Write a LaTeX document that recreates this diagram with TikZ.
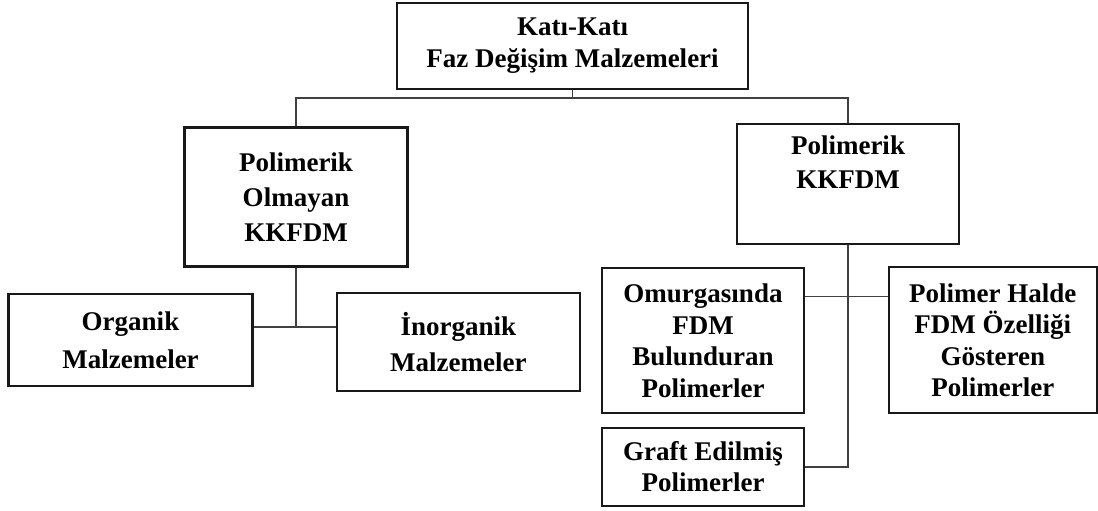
\documentclass[tikz,border=0pt]{standalone}
\usepackage{fontspec}
\setmainfont{Liberation Serif}
\begin{document}
\begin{tikzpicture}[x=1pt,y=-1pt,
  box/.style={draw=black!90, line width=2.2pt, rectangle, inner sep=0pt, align=center,
    font=\bfseries\fontsize{27}{32}\selectfont},
  conn/.style={draw=black!75, line width=1.5pt}]
\useasboundingbox (0,0) rectangle (1098,511);
\node[box, minimum width=351, minimum height=86] (top) at (572.5,46) {Katı-Katı\\Faz Değişim Malzemeleri};
\node[box, minimum width=223, minimum height=139, font=\bfseries\fontsize{27}{35}\selectfont] (pno) at (296,197) {Polimerik\\Olmayan\\KKFDM};
\node[box, minimum width=222.6, minimum height=120, font=\bfseries\fontsize{27}{34}\selectfont, text depth=43pt] (pk) at (848,184) {Polimerik\\KKFDM};
\node[box, minimum width=244, minimum height=92, font=\bfseries\fontsize{27}{38}\selectfont] (org) at (130.5,340) {Organik\\Malzemeler};
\node[box, minimum width=243, minimum height=98, font=\bfseries\fontsize{27}{36}\selectfont] (inorg) at (458.3,342) {İnorganik\\Malzemeler};
\node[box, minimum width=202.6, minimum height=145, font=\bfseries\fontsize{27}{31.5}\selectfont] (omu) at (703,340.8) {Omurgasında\\FDM\\Bulunduran\\Polimerler};
\node[box, minimum width=207.7, minimum height=146, font=\bfseries\fontsize{27}{31.5}\selectfont] (ph) at (992.8,340.3) {Polimer Halde\\FDM Özelliği\\Gösteren\\Polimerler};
\node[box, minimum width=202.6, minimum height=78.3, font=\bfseries\fontsize{27}{31}\selectfont] (graft) at (703,466.8) {Graft Edilmiş\\Polimerler};
\coordinate (bus) at (572.5,98);
\coordinate (j1) at (296,327);
\coordinate (j2) at (848,296.7);
\draw[conn] (top.south) -- (bus);
\draw[conn] (pno.north) |- (bus) -| (pk.north);
\draw[conn] (pno.south) -- (j1);
\draw[conn] (org.east |- j1) -- (inorg.west |- j1);
\draw[conn] (pk.south) |- (graft.east);
\draw[conn] (omu.east |- j2) -- (ph.west |- j2);
\end{tikzpicture}
\end{document}
